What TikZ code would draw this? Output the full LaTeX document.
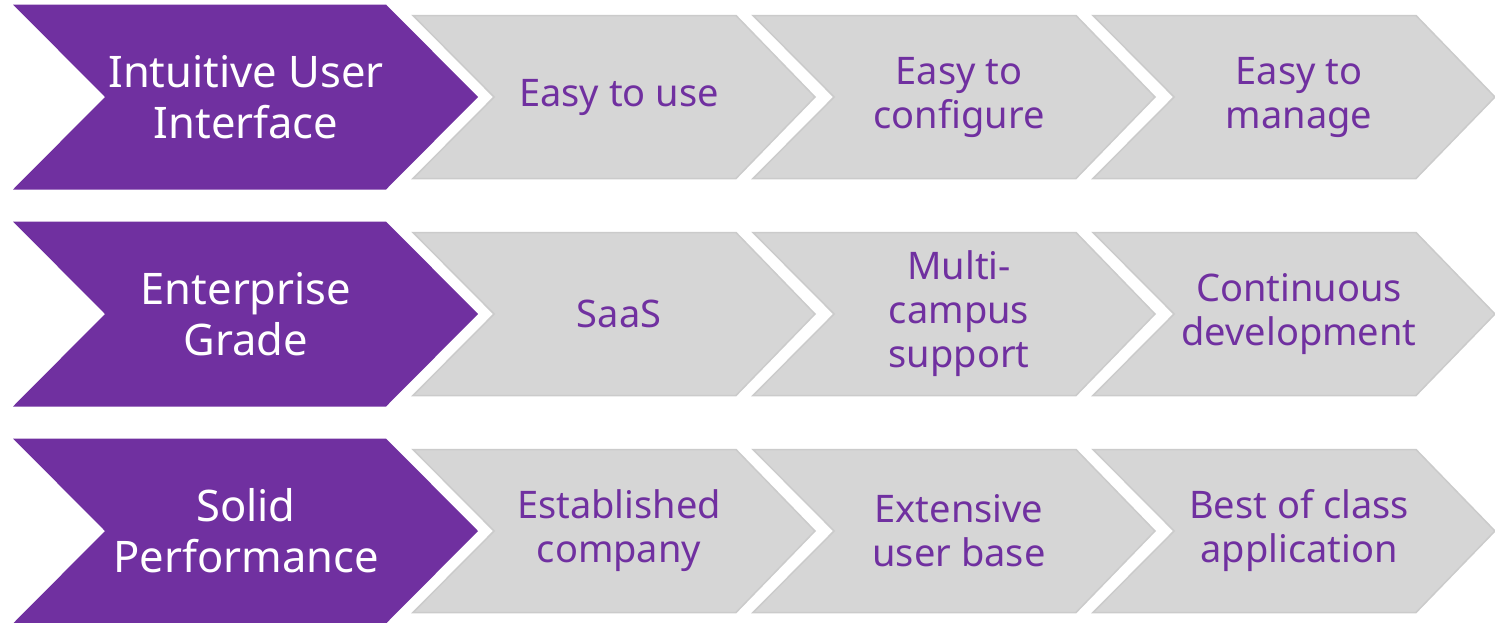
\documentclass[tikz,border=0pt]{standalone}
\usepackage{fontspec}
\setmainfont{Noto Sans}
\usetikzlibrary{positioning}
\definecolor{chevronpurple}{RGB}{112, 48, 160}
\definecolor{chevrongray}{RGB}{214, 214, 214}
\definecolor{chevronedge}{RGB}{203, 203, 203}

\begin{document}
\begin{tikzpicture}[
    x=1pt, y=-1pt,
    headchev/.style={fill=chevronpurple},
    itemchev/.style={fill=chevrongray, draw=chevronedge, line width=1.5pt},
    headtext/.style={text=white, align=center, font=\fontsize{43.5}{51}\selectfont},
    itemtext/.style={text=chevronpurple, align=center, font=\fontsize{38}{44}\selectfont}
]
    \useasboundingbox (0,0) rectangle (1495,622);

    % one row per feature: purple head, then three grey steps
    \foreach \r/\yc/\headlabel/\itemA/\itemB/\itemC in {
        1/97/{Intuitive User\\Interface}/{Easy to use}/{Easy to\\configure}/{Easy to\\manage},
        2/314/{Enterprise\\Grade}/{SaaS}/{Multi-\\campus\\support}/{Continuous\\development},
        3/531/{Solid\\Performance}/{Established\\company}/{Extensive\\user base}/{Best of class\\application}}
    {
        % head chevron
        \fill[headchev] (13,\yc-92.5) -- (386,\yc-92.5) -- (478,\yc)
            -- (386,\yc+92.5) -- (13,\yc+92.5) -- (105,\yc) -- cycle;
        \node[headtext] (head\r) at (246,\yc) {\headlabel};

        % grey steps
        \foreach \k/\txt in {0/\itemA, 1/\itemB, 2/\itemC} {
            \pgfmathsetmacro\L{413+340*\k}
            \filldraw[itemchev] (\L,\yc-81.5) -- (\L+323,\yc-81.5) -- (\L+402,\yc)
                -- (\L+323,\yc+81.5) -- (\L,\yc+81.5) -- (\L+81,\yc) -- cycle;
            \node[itemtext] (item\r\k) at (\L+206,\yc) {\txt};
        }
    }
\end{tikzpicture}
\end{document}
